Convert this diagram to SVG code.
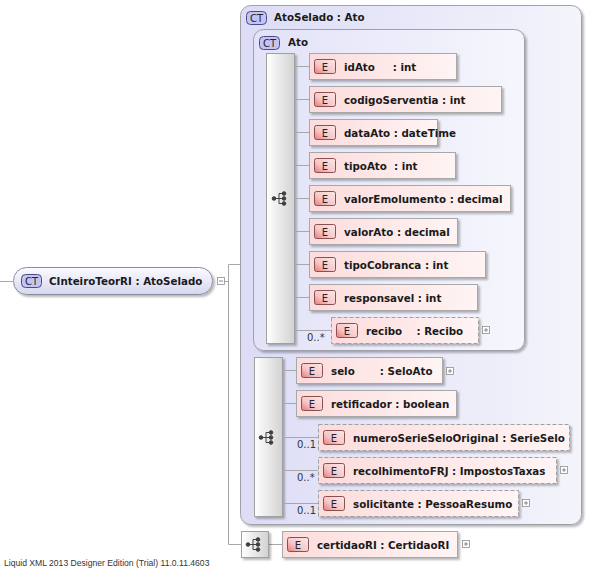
<svg xmlns="http://www.w3.org/2000/svg" width="595" height="569" viewBox="0 0 595 569">
<defs>
<linearGradient id="gBox" x1="0" y1="0" x2="1" y2="0"><stop offset="0" stop-color="#dcdcf6"/><stop offset="1" stop-color="#f4f4fc"/></linearGradient>
<linearGradient id="gInner" x1="0" y1="0" x2="1" y2="0"><stop offset="0" stop-color="#e2e2f8"/><stop offset="1" stop-color="#f6f6fd"/></linearGradient>
<linearGradient id="gRoot" x1="0" y1="0" x2="0" y2="1"><stop offset="0" stop-color="#fbfbff"/><stop offset="1" stop-color="#d6d6f0"/></linearGradient>
<linearGradient id="gElem" x1="0" y1="0" x2="1" y2="0"><stop offset="0" stop-color="#fcdcdc"/><stop offset="1" stop-color="#fff4f4"/></linearGradient>
<linearGradient id="gE" x1="0" y1="1" x2="1" y2="0"><stop offset="0" stop-color="#e87878"/><stop offset="0.4" stop-color="#f6c6c6"/><stop offset="1" stop-color="#fde8e8"/></linearGradient>
<linearGradient id="gSeq" x1="0" y1="0" x2="1" y2="0"><stop offset="0" stop-color="#ffffff"/><stop offset="1" stop-color="#d2d2d2"/></linearGradient>
<filter id="sh" x="-10%" y="-10%" width="130%" height="140%"><feDropShadow dx="2" dy="2" stdDeviation="1" flood-color="#000" flood-opacity="0.28"/></filter>
<g id="seqIcon" fill="#404040" stroke="#404040" stroke-width="1">
<circle cx="-7" cy="0" r="1.8"/><line x1="-7" y1="0" x2="-2" y2="0"/><line x1="-2" y1="-5" x2="-2" y2="5"/>
<line x1="-2" y1="-5" x2="3" y2="-5"/><line x1="-2" y1="0" x2="3" y2="0"/><line x1="-2" y1="5" x2="3" y2="5"/>
<circle cx="3" cy="-5" r="1.8"/><circle cx="3" cy="0" r="1.8"/><circle cx="3" cy="5" r="1.8"/>
</g>
<g id="ebadge"><rect x="0" y="0" width="21" height="14" rx="2" fill="url(#gE)" stroke="#8a5050" stroke-width="1"/><text x="10.5" y="11" class="badge" text-anchor="middle">E</text></g>
<g id="ctbadge"><rect x="0" y="0" width="20" height="13" rx="4" fill="#c4c4f2" stroke="#4a4a88" stroke-width="1"/><text x="10" y="10.5" class="badge" text-anchor="middle">CT</text></g>
<g id="plus"><rect x="0" y="0" width="7" height="7" fill="#fff" stroke="#909090" stroke-width="0.8"/><line x1="1.5" y1="3.5" x2="5.5" y2="3.5" stroke="#707070" stroke-width="0.8"/><line x1="3.5" y1="1.5" x2="3.5" y2="5.5" stroke="#707070" stroke-width="0.8"/></g>
</defs>
<style>
text{font-family:"DejaVu Sans",Verdana,sans-serif;white-space:pre}
.t{font-size:10.3px;font-weight:bold;fill:#1a1a1a}
.badge{font-size:10px;fill:#222233}
.card{font-size:10px;fill:#333}
.el{fill:url(#gElem);stroke:#a8a8a8;stroke-width:1;filter:url(#sh)}
.opt{fill:url(#gElem);stroke:#a0a0a0;stroke-width:1;stroke-dasharray:4 2;filter:url(#sh)}
.seq{fill:url(#gSeq);stroke:#a0a0a0;stroke-width:1;filter:url(#sh)}
.ln{stroke:#a8a8a8;stroke-width:1;fill:none}
.foot{font-family:"Liberation Sans",Arial,sans-serif;font-size:8.6px;fill:#333}
</style>
<rect width="595" height="569" fill="#fff"/>

<g id="connectors" class="ln">
<line x1="0" y1="281.5" x2="13" y2="281.5"/>
<line x1="224" y1="281.5" x2="228.5" y2="281.5"/>
<line x1="228.5" y1="264.5" x2="228.5" y2="544.5"/>
<line x1="228.5" y1="264.5" x2="240" y2="264.5"/>
<line x1="228.5" y1="544.5" x2="241" y2="544.5"/>
<line x1="253" y1="198.5" x2="266" y2="198.5"/>
<line x1="240" y1="437.5" x2="254" y2="437.5"/>
<line x1="268" y1="544.5" x2="282" y2="544.5"/>
</g>

<g id="root">
<rect x="13.5" y="267.5" width="199" height="27" rx="13" fill="url(#gRoot)" stroke="#8c8ca0" stroke-width="1" filter="url(#sh)"/>
<use href="#ctbadge" x="21.5" y="274.5"/>
<text class="t" x="49" y="285">CInteiroTeorRI : AtoSelado</text>
<rect x="217.5" y="277.5" width="7" height="7" fill="#fff" stroke="#909090" stroke-width="0.8"/><line x1="219" y1="281" x2="223" y2="281" stroke="#707070" stroke-width="0.8"/>
</g>

<g id="AtoSelado">
<rect x="240.5" y="5.5" width="341" height="519" rx="10" fill="url(#gBox)" stroke="#a0a0a8" stroke-width="1" filter="url(#sh)"/>
<use href="#ctbadge" x="246.5" y="11.5"/>
<text class="t" x="274" y="21">AtoSelado : Ato</text>
</g>

<g id="Ato">
<rect x="253.5" y="29.5" width="271" height="321" rx="10" fill="url(#gInner)" stroke="#a0a0a8" stroke-width="1" filter="url(#sh)"/>
<use href="#ctbadge" x="259.5" y="36.5"/>
<text class="t" x="288" y="46">Ato</text>
</g>

<g id="seqAto">
<rect class="seq" x="266.5" y="53.5" width="28" height="290"/>
<use href="#seqIcon" x="281" y="198.5"/>
<g class="ln">
<line x1="294" y1="66.5" x2="309" y2="66.5"/>
<line x1="294" y1="99.5" x2="309" y2="99.5"/>
<line x1="294" y1="132.5" x2="309" y2="132.5"/>
<line x1="294" y1="165.5" x2="309" y2="165.5"/>
<line x1="294" y1="198.5" x2="309" y2="198.5"/>
<line x1="294" y1="231.5" x2="309" y2="231.5"/>
<line x1="294" y1="264.5" x2="309" y2="264.5"/>
<line x1="294" y1="297.5" x2="309" y2="297.5"/>
<line x1="294" y1="330.5" x2="331" y2="330.5"/>
</g>
</g>

<g id="idAto"><rect class="el" x="309.5" y="53.5" width="147" height="26"/><use href="#ebadge" x="314.5" y="59.5"/><text class="t" x="344" y="71">idAto     : int</text></g>
<g id="codigoServentia"><rect class="el" x="309.5" y="86.5" width="192" height="26"/><use href="#ebadge" x="314.5" y="92.5"/><text class="t" x="344" y="104">codigoServentia : int</text></g>
<g id="dataAto"><rect class="el" x="309.5" y="119.5" width="128" height="26"/><use href="#ebadge" x="314.5" y="125.5"/><text class="t" x="344" y="137">dataAto : dateTime</text></g>
<g id="tipoAto"><rect class="el" x="309.5" y="152.5" width="146" height="26"/><use href="#ebadge" x="314.5" y="158.5"/><text class="t" x="344" y="170">tipoAto  : int</text></g>
<g id="valorEmolumento"><rect class="el" x="309.5" y="185.5" width="201" height="26"/><use href="#ebadge" x="314.5" y="191.5"/><text class="t" x="344" y="203">valorEmolumento : decimal</text></g>
<g id="valorAto"><rect class="el" x="309.5" y="218.5" width="148" height="26"/><use href="#ebadge" x="314.5" y="224.5"/><text class="t" x="344" y="236">valorAto : decimal</text></g>
<g id="tipoCobranca"><rect class="el" x="309.5" y="251.5" width="176" height="26"/><use href="#ebadge" x="314.5" y="257.5"/><text class="t" x="344" y="269">tipoCobranca : int</text></g>
<g id="responsavel"><rect class="el" x="309.5" y="284.5" width="168" height="26"/><use href="#ebadge" x="314.5" y="290.5"/><text class="t" x="344" y="302">responsavel : int</text></g>
<g id="recibo"><rect class="opt" x="331.5" y="317.5" width="147" height="26"/><use href="#ebadge" x="336.5" y="323.5"/><text class="t" x="366" y="335">recibo    : Recibo</text><text class="card" x="307" y="341">0..*</text><use href="#plus" x="482.5" y="326.5"/></g>

<g id="seq2">
<rect class="seq" x="254.5" y="357.5" width="28" height="159"/>
<use href="#seqIcon" x="268" y="437.5"/>
<g class="ln">
<line x1="282" y1="370.5" x2="296" y2="370.5"/>
<line x1="282" y1="403.5" x2="296" y2="403.5"/>
<line x1="282" y1="437.5" x2="318" y2="437.5"/>
<line x1="282" y1="470.5" x2="318" y2="470.5"/>
<line x1="282" y1="503.5" x2="318" y2="503.5"/>
</g>
</g>

<g id="selo"><rect class="el" x="296.5" y="357.5" width="146" height="26"/><use href="#ebadge" x="301.5" y="363.5"/><text class="t" x="331" y="375">selo       : SeloAto</text><use href="#plus" x="446.5" y="367.5"/></g>
<g id="retificador"><rect class="el" x="296.5" y="390.5" width="160" height="26"/><use href="#ebadge" x="301.5" y="396.5"/><text class="t" x="331" y="408">retificador : boolean</text></g>
<g id="numeroSerieSeloOriginal"><rect class="opt" x="318.5" y="424.5" width="251" height="26"/><use href="#ebadge" x="323.5" y="430.5"/><text class="t" x="353" y="442">numeroSerieSeloOriginal : SerieSelo</text><text class="card" x="297" y="448">0..1</text></g>
<g id="recolhimentoFRJ"><rect class="opt" x="318.5" y="457.5" width="238" height="26"/><use href="#ebadge" x="323.5" y="463.5"/><text class="t" x="353" y="475">recolhimentoFRJ : ImpostosTaxas</text><text class="card" x="297" y="481">0..*</text><use href="#plus" x="560.5" y="466.5"/></g>
<g id="solicitante"><rect class="opt" x="318.5" y="490.5" width="200" height="26"/><use href="#ebadge" x="323.5" y="496.5"/><text class="t" x="353" y="508">solicitante : PessoaResumo</text><text class="card" x="297" y="514">0..1</text><use href="#plus" x="522.5" y="499.5"/></g>

<g id="seq3"><rect class="seq" x="241.5" y="531.5" width="27" height="26"/><use href="#seqIcon" x="255" y="544.5"/></g>
<g id="certidaoRI"><rect class="el" x="282.5" y="531.5" width="175" height="26"/><use href="#ebadge" x="287.5" y="537.5"/><text class="t" x="317" y="549">certidaoRI : CertidaoRI</text><use href="#plus" x="462.5" y="540.5"/></g>

<text class="foot" x="4" y="566">Liquid XML 2013 Designer Edition (Trial) 11.0.11.4603</text>
</svg>
